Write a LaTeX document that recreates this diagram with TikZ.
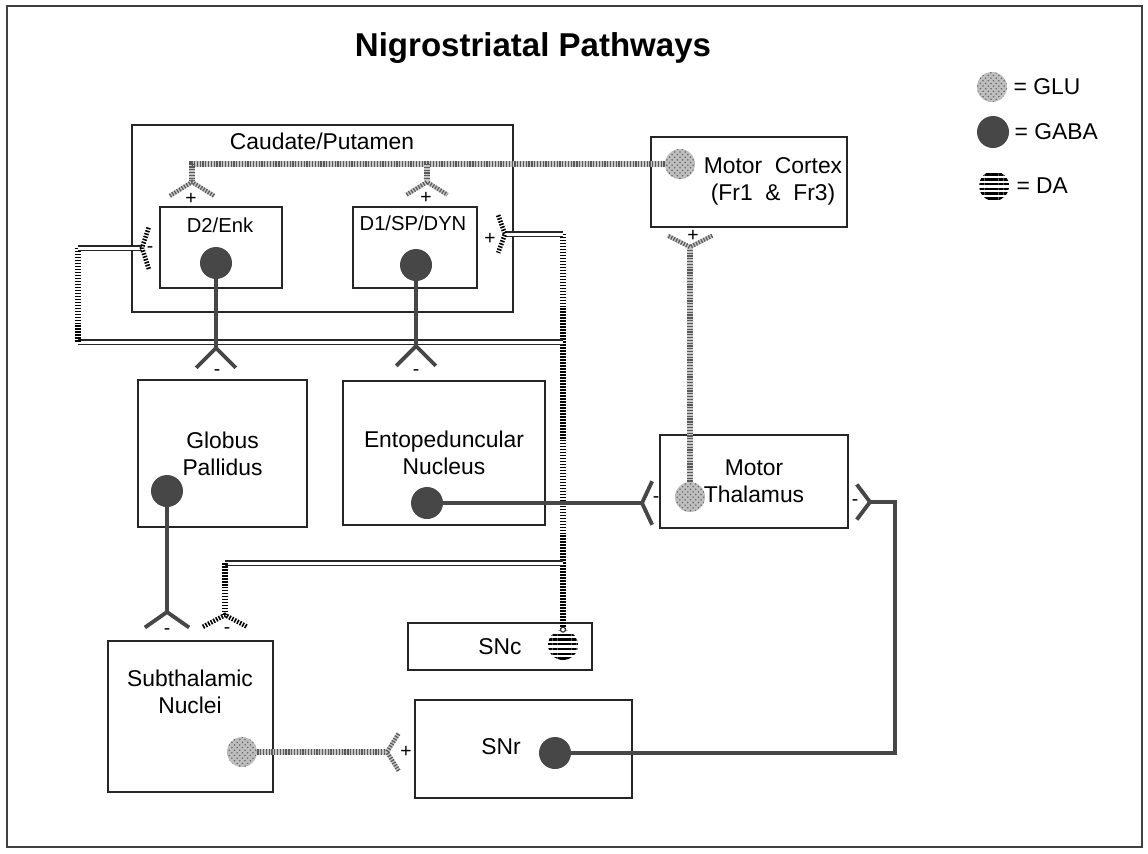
\documentclass[tikz,border=0pt]{standalone}
\usepackage{fontspec}
\setmainfont{Liberation Sans}
\usetikzlibrary{positioning,patterns,patterns.meta}

% synapse fork: style, vertex, axis angle, spread, arm length
\newcommand{\synapse}[5]{\draw[#1] (#2) ++(#3+#4:#5) -- (#2) -- ++(#3-#4:#5);}

\tikzset{
  region/.style={draw=black!85, line width=1.1pt, inner sep=0pt, align=center, font=\fontsize{13}{15.3}\selectfont},
  lbl/.style={inner sep=0pt, align=center, font=\fontsize{13}{15.3}\selectfont},
  sublbl/.style={inner sep=0pt, font=\fontsize{11.5}{13}\selectfont},
  sgn/.style={inner sep=0pt, font=\fontsize{11}{12}\selectfont},
  gabacell/.style={circle, inner sep=0pt, minimum size=0.64cm, fill=black!72},
  glucell/.style={circle, inner sep=0pt, minimum size=0.6cm, fill=gray!50, postaction={pattern=crosshatch dots, pattern color=black!60}},
  dacell/.style={circle, inner sep=0pt, minimum size=0.6cm, pattern={Lines[angle=0,distance=2.7pt,line width=1.3pt]}, pattern color=black},
  gaba/.style={draw=black!72, line width=2.8pt},
  glu/.style={draw=gray!45, line width=3pt, postaction={draw=black!65, dash pattern=on 0.7pt off 0.9pt}},
  dah/.style={draw=black!85, double=white, line width=0.75pt, double distance=1.7pt},
  dav/.style={draw=black, line width=3pt, dash pattern=on 0.9pt off 0.8pt},
}

\begin{document}
\begin{tikzpicture}[x=0.02cm, y=-0.02cm, line join=miter]
\useasboundingbox (0,0) rectangle (1148,853);
\draw[line width=1.2pt, black!75] (7,6) rectangle (1142,847);
\node[font=\fontsize{18.8}{22}\selectfont\bfseries] (title) at (533,48) {Nigrostriatal Pathways};

%legend
\node[glucell] (lglu) at (992,87) {};
\node[lbl, right=0.12cm of lglu] (lglutxt) {= GLU};
\node[gabacell] (lgaba) at (993,132) {};
\node[lbl, right=0.1cm of lgaba] (lgabatxt) {= GABA};
\node[dacell] (lda) at (994,186) {};
\node[lbl, right=0.12cm of lda] (ldatxt) {= DA};

%regions
\node[region, minimum width=7.62cm, minimum height=3.74cm] (caud) at (322.5,218.5) {};
\node[lbl] (caudlbl) at (322,141) {Caudate/Putamen};
\node[region, minimum width=2.44cm, minimum height=1.62cm] (d2) at (221,247.5) {};
\node[sublbl] (d2lbl) at (220,225) {D2/Enk};
\node[region, minimum width=2.48cm, minimum height=1.62cm] (d1) at (415,247.5) {};
\node[sublbl] (d1lbl) at (413,223) {D1/SP/DYN};
\node[region, minimum width=3.92cm, minimum height=1.8cm] (mcx) at (749,182) {};
\node[lbl] (mcxlbl) at (773,181) {Motor\ \ Cortex\\(Fr1\ \ \&\ \ Fr3)};
\node[region, minimum width=3.38cm, minimum height=2.94cm] (gp) at (222.5,453.5) {Globus\\Pallidus};
\node[region, minimum width=4.04cm, minimum height=2.88cm] (ep) at (444,453) {Entopeduncular\\Nucleus};
\node[region, minimum width=3.76cm, minimum height=1.86cm] (thal) at (754,481.5) {Motor\\Thalamus};
\node[region, minimum width=3.68cm, minimum height=0.94cm] (snc) at (500,646.5) {SNc};
\node[region, minimum width=3.3cm, minimum height=3.02cm] (stn) at (190.5,716.5) {};
\node[lbl] (stnlbl) at (190,692) {Subthalamic\\Nuclei};
\node[region, minimum width=4.34cm, minimum height=1.96cm] (snr) at (523.5,749) {};
\node[lbl] (snrlbl) at (501,747) {SNr};

%cells
\node[gabacell] (d2cell) at (216,263) {};
\node[gabacell] (d1cell) at (416,265) {};
\node[gabacell] (gpcell) at (167,491) {};
\node[gabacell] (epcell) at (427,503) {};
\node[gabacell] (snrcell) at (555,753) {};
\node[glucell] (mcxcell) at (680,164) {};
\node[glucell] (thalcell) at (690,497) {};
\node[glucell] (stncell) at (242,752) {};
\node[dacell] (snccell) at (563,645) {};

%synapse points
\coordinate (yD2) at (192,182);
\coordinate (yD1) at (427,182);
\coordinate (yThalU) at (690,247);
\coordinate (yStn) at (387,752);
\coordinate (yGp) at (216,348);
\coordinate (yEp) at (416,346);
\coordinate (yThalL) at (642,503);
\coordinate (yThalR) at (870,502);
\coordinate (yGpStn) at (167,612);
\coordinate (yDAr) at (505,234);
\coordinate (yDAl) at (142,248);
\coordinate (yDAstn) at (225,615);
\coordinate (snrturn) at (895,753);
\coordinate (datop) at (563,234);
\coordinate (damid) at (563,342);
\coordinate (dalow) at (563,563);
\coordinate (daleft) at (78,342);

%dopamine
\draw[dav] (snccell.north) -- (datop);
\draw[dah] (datop) -- (yDAr);
\draw[dah] (damid) -- (daleft);
\draw[dav] (daleft) -- (daleft |- yDAl);
\draw[dah] (daleft |- yDAl) -- (yDAl);
\draw[dah] (dalow) -- (dalow -| yDAstn);
\draw[dav] (dalow -| yDAstn) -- (yDAstn);
\synapse{dav, line width=2.6pt}{yDAr}{180}{70}{20}
\synapse{dav, line width=2.6pt}{yDAl}{0}{72}{22}
\synapse{dav, line width=2.6pt}{yDAstn}{90}{62}{25}
\node[draw=black!85, fill=white, circle, inner sep=0pt, minimum size=0.1cm, line width=0.6pt] (knob) at (snccell.north) {};

%glutamate
\draw[glu] (mcxcell) -- (mcxcell -| yD2) -- (yD2);
\draw[glu] (mcxcell -| yD1) -- (yD1);
\draw[glu] (yThalU) -- (thalcell);
\draw[glu] (stncell) -- (yStn);
\synapse{glu, line width=2.4pt}{yD2}{90}{58}{26}
\synapse{glu, line width=2.4pt}{yD1}{90}{58}{24}
\synapse{glu, line width=2.4pt}{yThalU}{270}{63}{25}
\synapse{glu, line width=2.4pt}{yStn}{0}{58}{22}

%gaba
\draw[gaba] (d2cell) -- (yGp);
\draw[gaba] (d1cell) -- (yEp);
\draw[gaba] (epcell) -- (yThalL);
\draw[gaba] (gpcell) -- (yGpStn);
\draw[gaba] (snrcell) -- (snrturn) |- (yThalR);
\synapse{gaba, line width=2.2pt}{yGp}{90}{45}{28}
\synapse{gaba, line width=2.2pt}{yEp}{90}{45}{28}
\synapse{gaba, line width=2.2pt}{yThalL}{0}{65}{24}
\synapse{gaba, line width=2.2pt}{yThalR}{180}{53}{22}
\synapse{gaba, line width=2.2pt}{yGpStn}{90}{55}{27}

%signs
\node[sgn] (sD2) at (191,199) {+};
\node[sgn] (sD1) at (426,198) {+};
\node[sgn] (sD1da) at (490,239) {+};
\node[sgn] (sD2da) at (150,250) {-};
\node[sgn] (sGp) at (217,373) {-};
\node[sgn] (sEp) at (416,373) {-};
\node[sgn] (sThalL) at (656,500) {-};
\node[sgn] (sThalR) at (855,503) {-};
\node[sgn] (sThalU) at (693,236) {+};
\node[sgn] (sStnGp) at (167,632) {-};
\node[sgn] (sStnDa) at (227,631) {-};
\node[sgn] (sSnr) at (406,752) {+};
\end{tikzpicture}
\end{document}
